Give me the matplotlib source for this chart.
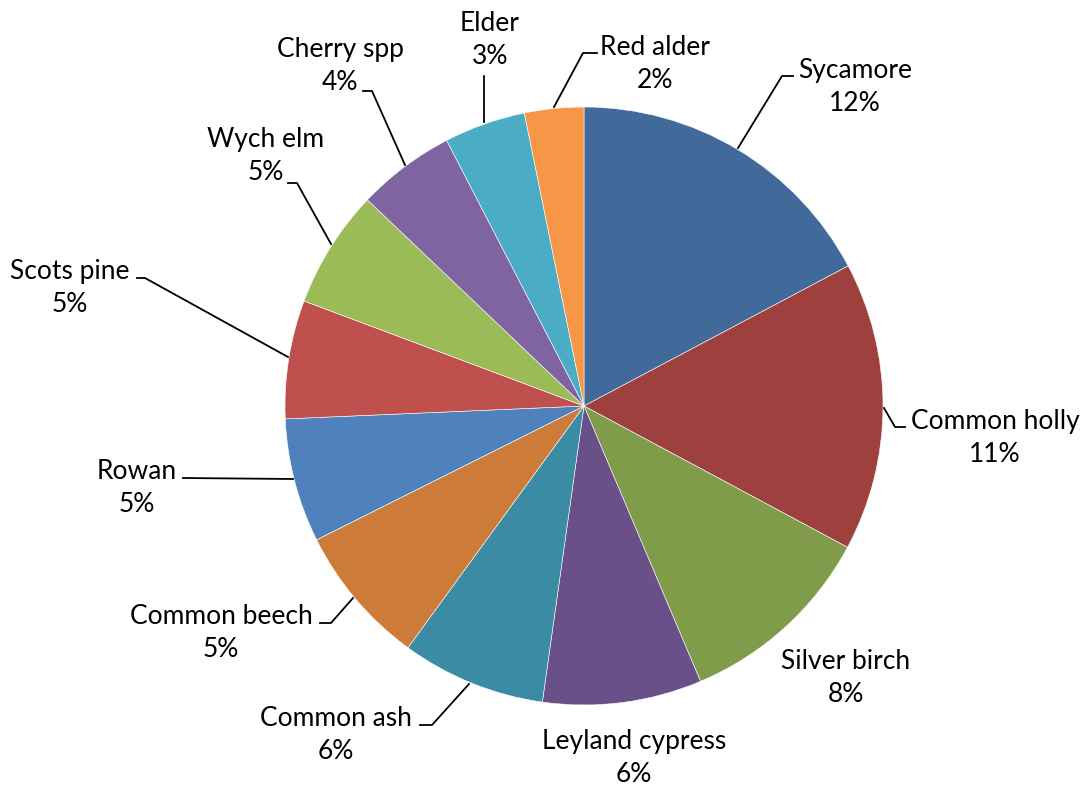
import matplotlib
matplotlib.use('Agg')
import matplotlib.pyplot as plt

# Species shares (slice sizes) and the printed percentages
species = ['Sycamore', 'Common holly', 'Silver birch', 'Leyland cypress', 'Common ash',
           'Common beech', 'Rowan', 'Scots pine', 'Wych elm', 'Cherry spp', 'Elder', 'Red alder']
shares = [17.25, 15.6, 10.8, 8.6, 7.8, 7.6, 6.7, 6.4, 6.4, 5.3, 4.4, 3.2]
pct_labels = ['12%', '11%', '8%', '6%', '6%', '5%', '5%', '5%', '5%', '4%', '3%', '2%']

colors = ['#416A9B', '#9E413E', '#809C4B', '#6A5089', '#3A8BA3', '#CC7B38',
          '#4F81BD', '#C0504D', '#9BBB59', '#8064A2', '#4BACC6', '#F79646']

W, H = 1086, 785
CX, CY, R = 584, 406, 299


def px(x, y):
    """pixel position -> data coords (pie centre at 0,0, radius 1)"""
    return (x - CX) / R, (CY - y) / R


# label centre (px) and leader line points (px), None when no leader
label_pos = {
    'Sycamore': ((855, 87), [(738, 148), (782, 76), (793, 76)]),
    'Common holly': ((995, 438), [(884, 408), (895, 427), (905, 427)]),
    'Silver birch': ((846, 678), None),
    'Leyland cypress': ((634, 758), None),
    'Common ash': ((336, 735), [(469, 684), (432, 725), (420, 725)]),
    'Common beech': ((221, 633), [(353, 598), (331, 623), (320, 623)]),
    'Rowan': ((137, 488), [(293, 479), (183, 478)]),
    'Scots pine': ((70, 288), [(288, 357), (145, 278), (137, 278)]),
    'Wych elm': ((266, 156), [(331, 244), (297, 183), (288, 183)]),
    'Cherry spp': ((340, 66), [(405, 165), (372, 91), (363, 91)]),
    'Elder': ((490, 40), [(484, 122), (484, 76)]),
    'Red alder': ((655, 64), [(554, 107), (583, 53), (597, 53)]),
}

fig = plt.figure(figsize=(W / 100, H / 100), dpi=100)
ax = fig.add_axes([0, 0, 1, 1])

ax.pie(shares, colors=colors, startangle=90, counterclock=False, radius=1,
       wedgeprops=dict(edgecolor='white', linewidth=0.4))

for name, pct in zip(species, pct_labels):
    (tx, ty), leader = label_pos[name]
    x, y = px(tx, ty)
    ax.text(x, y, f'{name}\n{pct}', ha='center', va='center', fontsize=19,
            family='Lato', linespacing=1.38, color='black')
    if leader:
        lx, ly = zip(*[px(a, b) for a, b in leader])
        ax.plot(lx, ly, color='black', linewidth=1.3)

ax.set_xlim(-CX / R, (W - CX) / R)
ax.set_ylim((CY - H) / R, CY / R)
ax.set_aspect('equal')
ax.axis('off')

fig.savefig('out.png', dpi=100, facecolor='white')
